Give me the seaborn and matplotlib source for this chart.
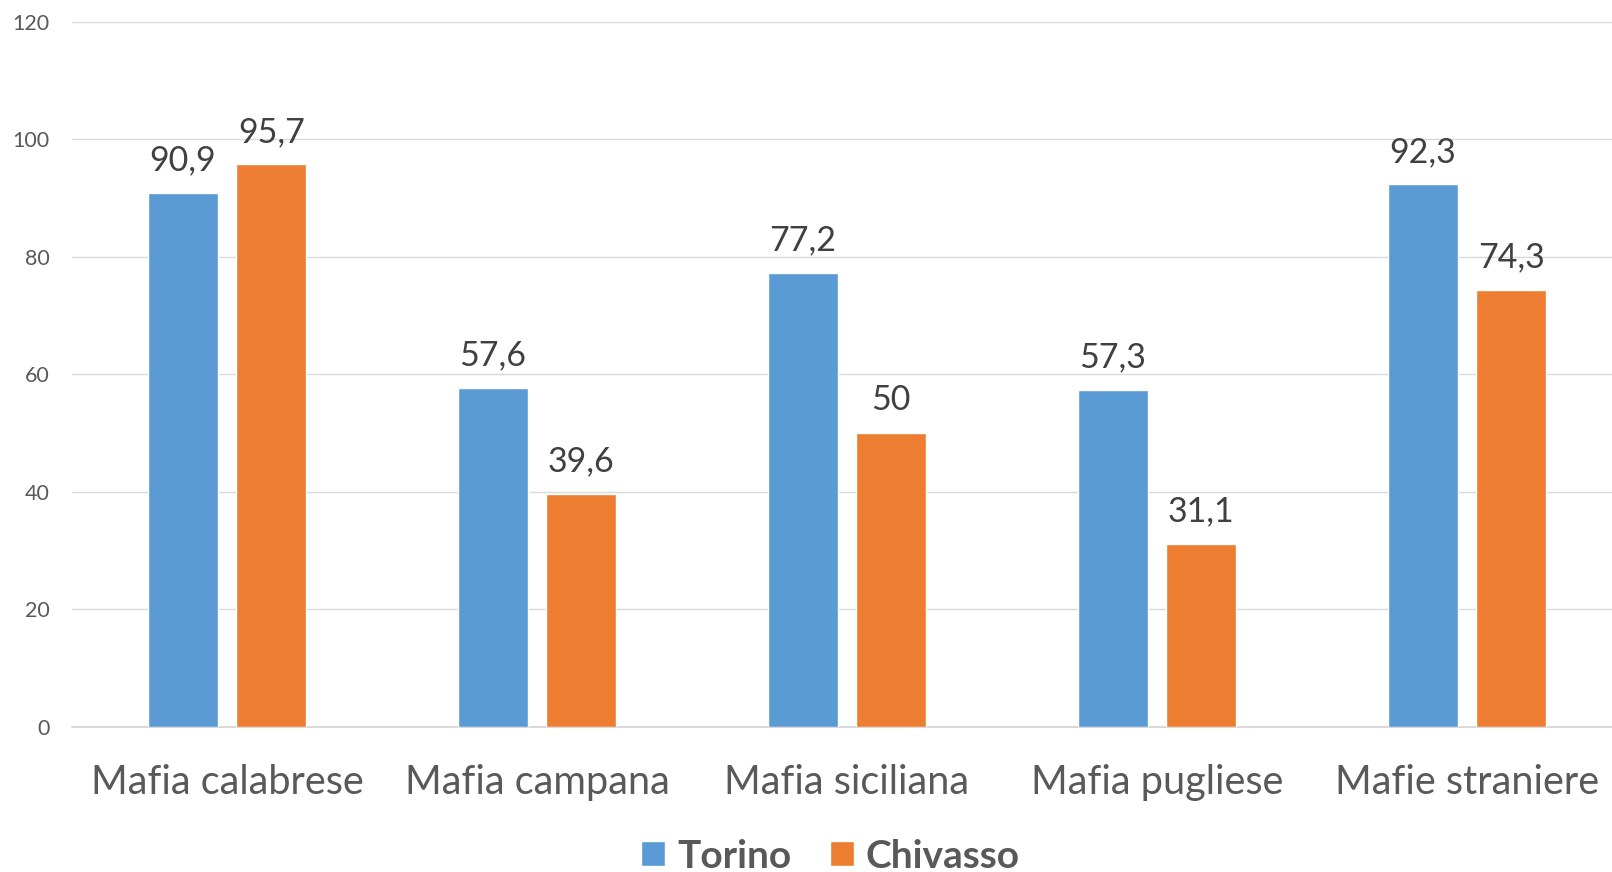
import numpy as np
import pandas as pd
import seaborn as sns
import matplotlib.pyplot as plt

# DATA
categories = ["Mafia calabrese", "Mafia campana", "Mafia siciliana",
              "Mafia pugliese", "Mafie straniere"]
torino = [90.9, 57.6, 77.2, 57.3, 92.3]
chivasso = [95.7, 39.6, 50.0, 31.1, 74.3]
series = ["Torino", "Chivasso"]
yticks = [0, 20, 40, 60, 80, 100, 120]

df = pd.DataFrame({
    "categoria": categories * 2,
    "valore": torino + chivasso,
    "citta": [series[0]] * len(categories) + [series[1]] * len(categories),
})

sns.set_theme(style="white")
plt.rcParams["font.family"] = ["Lato", "DejaVu Sans"]

fig = plt.figure(figsize=(16.12, 8.72), dpi=100)
ax = fig.add_axes([72 / 1612, 145.3 / 872, 1550 / 1612, 705 / 872])

sns.barplot(data=df, x="categoria", y="valore", hue="citta",
            palette=["#5B9BD5", "#ED7D31"], width=0.571, gap=0.209,
            saturation=1, ax=ax, legend=True)

# data labels with comma decimals
for cont in ax.containers:
    labels = [f"{b.get_height():g}".replace(".", ",") for b in cont]
    ax.bar_label(cont, labels=labels, padding=12, fontsize=24.5, color="#404040")

ax.set_ylim(0, 120)
ax.set_xlim(-0.5, 4.5)
ax.set_yticks(yticks)
ax.yaxis.grid(True, color="#D9D9D9", linewidth=1.0)
ax.axhline(0, color="#D9D9D9", linewidth=1.5, clip_on=False, zorder=0.5)
ax.set_axisbelow(True)
for s in ax.spines.values():
    s.set_visible(False)
ax.tick_params(axis="y", length=0, pad=16, labelsize=15.5, labelcolor="#595959")
ax.tick_params(axis="x", length=0, pad=27, labelsize=28.5, labelcolor="#595959")
ax.set_xlabel("")
ax.set_ylabel("")

# legend at the bottom
handles, labs = ax.get_legend_handles_labels()
ax.get_legend().remove()
fig.legend(handles, labs, loc="center", bbox_to_anchor=(830.5 / 1612, 16 / 872),
           ncol=2, frameon=False, handlelength=0.62, handleheight=0.62,
           handletextpad=0.3, columnspacing=1.0, borderpad=0,
           prop={"size": 28, "weight": "bold"}, labelcolor="#595959")

fig.savefig("out.png", dpi=100)
